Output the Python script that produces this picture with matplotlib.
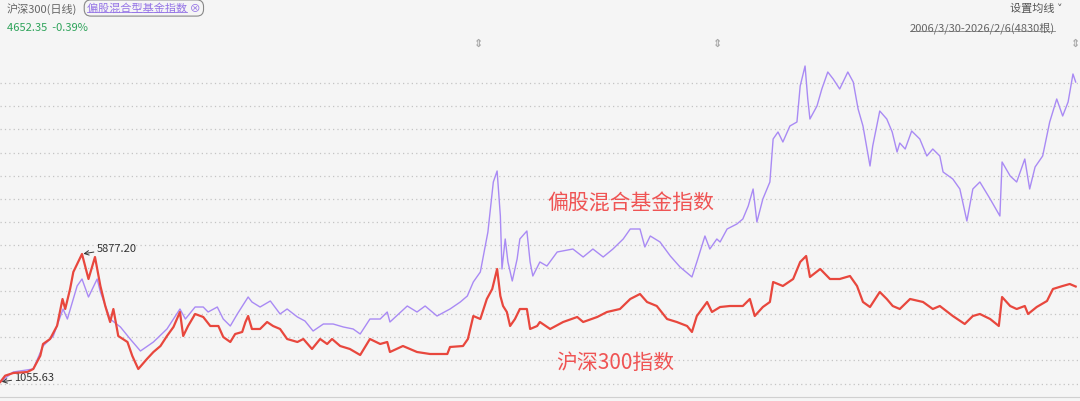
import numpy as np
import matplotlib
matplotlib.use('Agg')
from matplotlib import pyplot as plt
from matplotlib.lines import Line2D

plt.rcParams['font.family'] = ['Noto Sans CJK SC', 'DejaVu Sans']

# 沪深300 (x in decimal years, y in index points)
hs_year = [2006.24, 2006.33, 2006.48, 2006.74, 2006.85, 2006.98, 2007.03, 2007.16, 2007.29, 2007.39,
           2007.44, 2007.53, 2007.59, 2007.75, 2007.87, 2007.99, 2008.09, 2008.18, 2008.27, 2008.33,
           2008.42, 2008.59, 2008.68, 2008.79, 2008.95, 2009.07, 2009.20, 2009.32, 2009.44, 2009.56,
           2009.62, 2009.71, 2009.84, 2009.99, 2010.12, 2010.27, 2010.36, 2010.49, 2010.58, 2010.71,
           2010.77, 2010.82, 2010.89, 2011.04, 2011.17, 2011.28, 2011.41, 2011.54, 2011.73, 2011.84,
           2012.00, 2012.15, 2012.28, 2012.37, 2012.52, 2012.70, 2012.89, 2013.07, 2013.26, 2013.39,
           2013.44, 2013.68, 2013.94, 2014.18, 2014.50, 2014.55, 2014.79, 2014.88, 2014.98, 2015.11,
           2015.23, 2015.33, 2015.42, 2015.48, 2015.53, 2015.60, 2015.66, 2015.75, 2015.84, 2015.97,
           2016.03, 2016.16, 2016.21, 2016.40, 2016.64, 2016.90, 2017.01, 2017.27, 2017.45, 2017.69,
           2017.88, 2018.06, 2018.19, 2018.37, 2018.56, 2018.74, 2018.93, 2019.02, 2019.11, 2019.30,
           2019.39, 2019.54, 2019.72, 2019.96, 2020.09, 2020.18, 2020.33, 2020.46, 2020.52, 2020.70,
           2020.89, 2021.02, 2021.13, 2021.20, 2021.39, 2021.57, 2021.75, 2021.94, 2022.07, 2022.18,
           2022.31, 2022.49, 2022.62, 2022.73, 2022.86, 2023.05, 2023.29, 2023.47, 2023.60, 2023.84,
           2024.06, 2024.21, 2024.34, 2024.53, 2024.69, 2024.75, 2024.90, 2025.02, 2025.17, 2025.23,
           2025.39, 2025.58, 2025.69, 2025.87, 2026.00, 2026.11]
hs_value = [1055, 1293, 1394, 1432, 1545, 2046, 2487, 2675, 3176, 4182,
            3805, 4559, 5199, 5877, 4935, 5764, 4672, 3918, 3315, 3805,
            2788, 2562, 2035, 1545, 1922, 2185, 2411, 2788, 3127, 3692,
            2788, 3165, 3617, 3504, 3165, 3165, 2750, 2562, 2863, 2939,
            3315, 3541, 3052, 3052, 3315, 3165, 3052, 2675, 2562, 2675,
            2298, 2675, 2487, 2675, 2411, 2298, 2072, 2675, 2487, 2562,
            2185, 2411, 2185, 2110, 2110, 2374, 2411, 2675, 3541, 3428,
            4182, 4559, 5312, 4295, 3918, 3692, 3165, 3428, 3805, 3805,
            3052, 3165, 3315, 3052, 3315, 3504, 3315, 3504, 3692, 3805,
            4182, 4370, 4069, 3918, 3428, 3315, 3165, 2939, 3541, 4069,
            3692, 3880, 3918, 3918, 4182, 3541, 3880, 4069, 4822, 4672,
            4935, 5576, 5802, 5011, 5312, 4935, 4935, 5048, 4672, 4069,
            3880, 4446, 4182, 3918, 3805, 4182, 4069, 3805, 3918, 3541,
            3240, 3541, 3617, 3428, 3165, 4257, 3918, 3805, 3918, 3617,
            3880, 4107, 4559, 4672, 4747, 4652]

# 偏股混合基金指数, rebased to the 沪深300 start
fund_year = [2006.24, 2006.48, 2006.85, 2007.03, 2007.22, 2007.40, 2007.48, 2007.66, 2007.75, 2007.87,
             2008.03, 2008.09, 2008.27, 2008.46, 2008.64, 2008.83, 2009.07, 2009.32, 2009.56, 2009.66,
             2009.84, 2009.99, 2010.08, 2010.25, 2010.36, 2010.49, 2010.62, 2010.82, 2010.89, 2011.04,
             2011.23, 2011.41, 2011.54, 2011.73, 2011.87, 2012.02, 2012.21, 2012.39, 2012.58, 2012.76,
             2012.89, 2013.07, 2013.26, 2013.39, 2013.44, 2013.76, 2013.94, 2014.09, 2014.31, 2014.55,
             2014.74, 2014.87, 2014.98, 2015.11, 2015.25, 2015.35, 2015.42, 2015.48, 2015.51, 2015.57,
             2015.62, 2015.70, 2015.79, 2015.84, 2015.97, 2016.03, 2016.08, 2016.21, 2016.34, 2016.53,
             2016.82, 2017.01, 2017.19, 2017.38, 2017.56, 2017.75, 2017.88, 2018.06, 2018.15, 2018.25,
             2018.43, 2018.62, 2018.80, 2019.02, 2019.11, 2019.26, 2019.35, 2019.48, 2019.54, 2019.67,
             2019.85, 2019.96, 2020.06, 2020.15, 2020.22, 2020.33, 2020.46, 2020.52, 2020.61, 2020.70,
             2020.83, 2020.96, 2021.02, 2021.11, 2021.16, 2021.20, 2021.33, 2021.42, 2021.53, 2021.63,
             2021.75, 2021.90, 2022.00, 2022.09, 2022.18, 2022.31, 2022.36, 2022.49, 2022.62, 2022.72,
             2022.81, 2022.86, 2022.96, 2023.08, 2023.23, 2023.36, 2023.47, 2023.60, 2023.66, 2023.84,
             2023.97, 2024.10, 2024.21, 2024.34, 2024.53, 2024.71, 2024.75, 2024.90, 2025.02, 2025.17,
             2025.26, 2025.36, 2025.50, 2025.63, 2025.76, 2025.87, 2025.97, 2026.06, 2026.11]
fund_value = [1055, 1432, 1545, 2411, 2788, 3805, 3428, 4672, 4935, 4257,
              4935, 4446, 3428, 3127, 2675, 2223, 2562, 3052, 3805, 3428,
              3880, 3880, 3692, 3880, 3428, 3165, 3617, 4257, 4069, 3880,
              4107, 3617, 3805, 3504, 3353, 2976, 3240, 3240, 3127, 3052,
              2863, 3428, 3428, 3692, 3315, 3918, 3692, 3918, 3541, 3805,
              4069, 4295, 4822, 5199, 6706, 8589, 9004, 7308, 5312, 6442,
              5576, 4860, 5689, 6442, 6743, 5576, 5048, 5576, 5425, 5952,
              6065, 5764, 6065, 5764, 6065, 6442, 6819, 6819, 6141, 6555,
              6329, 5802, 5387, 5011, 5576, 6555, 6065, 6442, 6329, 6819,
              7007, 7195, 7685, 8326, 7082, 7949, 8589, 10209, 10473, 10096,
              10699, 10849, 12206, 12959, 11716, 10962, 11452, 12093, 12733, 12469,
              12093, 12733, 12356, 11339, 10699, 9192, 9945, 11264, 10962, 10473,
              9719, 10058, 9832, 10510, 10209, 9569, 9832, 9569, 8966, 8702,
              8326, 7120, 8326, 8589, 7949, 7308, 9343, 8815, 8589, 9456,
              8326, 9154, 9569, 10849, 11716, 11076, 11603, 12658, 12356]

hs_high = (2007.75, 5877.20)
hs_low = (2006.24, 1055.63)

bg = '#f5f5f5'
fig = plt.figure(figsize=(10.8, 4.02), dpi=100, facecolor=bg)
ax = fig.add_axes([0, 4 / 402, 1, 358 / 402], facecolor=bg)

ax.plot(fund_year, fund_value, color='#a98af4', lw=1.0, zorder=3)
ax.plot(hs_year, hs_value, color='#e8473d', lw=1.6, zorder=4)

ax.set_xlim(2006.235, 2026.19)
ax.set_ylim(490, 13976)
ax.set_yticks(np.arange(997, 12400, 870))
ax.set_xticks([])
ax.tick_params(left=False, labelleft=False)
ax.grid(axis='y', color='#c4c4c4', linestyle=(0, (1, 2.5)), lw=0.9)
for s in ['top', 'left', 'right']:
    ax.spines[s].set_visible(False)
ax.spines['bottom'].set_color('#d0d0d0')

# high / low markers
ax.annotate('5877.20', xy=hs_high, xytext=(2008.02, 6090), fontsize=8, color='#333333',
            va='center', ha='left',
            arrowprops=dict(arrowstyle='->', color='#333333', lw=0.7, shrinkA=0, shrinkB=1))
ax.annotate('1055.63', xy=hs_low, xytext=(2006.50, 1250), fontsize=8, color='#333333',
            va='center', ha='left',
            arrowprops=dict(arrowstyle='->', color='#333333', lw=0.7, shrinkA=0, shrinkB=1))

# series labels
ax.text(2017.90, 7830, '偏股混合基金指数', fontsize=15, color='#ef5454', ha='center', va='center')
ax.text(2017.60, 1810, '沪深300指数', fontsize=15, color='#ef5454', ha='center', va='center')

# event markers along the top
for yr in [2015.07, 2019.50, 2026.10]:
    ax.text(yr, 13830, '⇕', fontsize=8, color='#a8a8a8', ha='center', va='center',
            fontweight='bold', family=['DejaVu Sans'])

# header
fig.text(7 / 1080, 1 - 9 / 402, '沪深300(日线)', fontsize=8, color='#666666', va='center')
fig.text(87 / 1080, 1 - 9 / 402, '偏股混合型基金指数 ⊗', fontsize=8, color='#9574e6', va='center',
         bbox=dict(boxstyle='round,pad=0.25,rounding_size=0.6', fc='none', ec='#888888', lw=0.8))
fig.text(7 / 1080, 1 - 28 / 402, '4652.35  -0.39%', fontsize=8, color='#2ea35a', va='center')
fig.text(1063 / 1080, 1 - 9 / 402, '设置均线 ˅', fontsize=8, color='#555555', va='center', ha='right')
t_range = fig.text(1055 / 1080, 1 - 28 / 402, '2006/3/30-2026/2/6(4830根)', fontsize=8,
                   color='#666666', va='center', ha='right')

# underlines (the fund name is measured with a temporary text, then removed)
t_tmp = fig.text(87 / 1080, 1 - 9 / 402, '偏股混合型基金指数', fontsize=8, color='none', va='center')
fig.canvas.draw()
r = fig.canvas.get_renderer()
inv = fig.transFigure.inverted()
bb_fund = t_tmp.get_window_extent(r).transformed(inv)
bb_range = t_range.get_window_extent(r).transformed(inv)
t_tmp.remove()
for bb, c in [(bb_range, '#888888'), (bb_fund, '#9574e6')]:
    fig.add_artist(Line2D([bb.x0, bb.x1], [bb.y0 + 0.004, bb.y0 + 0.004], color=c, lw=0.6))

fig.savefig('out.png', dpi=100, facecolor=bg)
